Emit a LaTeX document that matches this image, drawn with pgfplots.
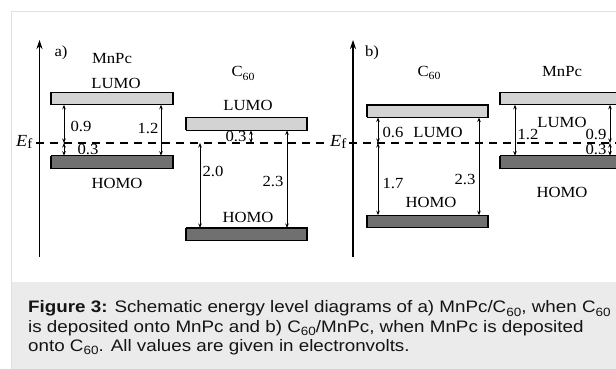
\documentclass[border=0pt]{standalone}
\usepackage{fontspec}
\setmainfont{Liberation Serif}[FakeStretch=1.08]
\newfontfamily\capfont{Liberation Sans}[FakeStretch=1.13]
\usepackage{pgfplots}
\pgfplotsset{compat=1.18}
\usetikzlibrary{arrows.meta}
\definecolor{lumo}{RGB}{211,211,211}
\definecolor{homo}{RGB}{112,112,112}
\definecolor{capbg}{RGB}{235,235,235}
\definecolor{framec}{RGB}{224,224,224}
\definecolor{captxt}{RGB}{20,20,20}
\newcommand{\sub}[1]{\raisebox{-0.22em}{\fontsize{11}{12}\selectfont #1}}
\newcommand{\csub}[1]{\raisebox{-0.2em}{\fontsize{12}{12}\selectfont #1}}
\newcommand{\Ef}{\textit{E}\raisebox{-0.12em}{\fontsize{14}{14}\selectfont f}}
\tikzset{
  lbl/.style={font=\fontsize{15.5}{18}\selectfont, inner sep=0pt, anchor=base},
  lvl/.style={draw=black, line width=1.4bp},
  gap/.style={<->, >={Stealth[length=4.5bp,width=3.5bp]}, line width=0.8bp},
  capl/.style={font=\capfont\fontsize{16.7}{19}\selectfont, text=captxt, inner sep=0pt, anchor=base west}
}
\begin{document}
\begin{tikzpicture}
\path[use as bounding box] (0,0) rectangle (616bp,369bp);
\fill[white] (0,0) rectangle (616bp,369bp);
\fill[capbg] (12bp,0) rectangle (616bp,87bp);
\draw[framec, line width=1bp] (11.5bp,0) -- (11.5bp,357.5bp) -- (616bp,357.5bp);
\node[capl] at (28bp,56bp) {\textbf{Figure 3:} Schematic energy level diagrams of a) MnPc/C\csub{60}, when C\csub{60}};
\node[capl] at (28bp,37bp) {is deposited onto MnPc and b) C\csub{60}/MnPc, when MnPc is deposited};
\node[capl] at (28bp,18bp) {onto C\csub{60}. All values are given in electronvolts.};
\begin{axis}[at={(0,0)}, anchor=south west, width=616bp, height=369bp, scale only axis,
  xmin=0, xmax=616, ymin=-5.3176, ymax=3.3647, hide axis, clip=true]
% energy axes
\addplot[-{Stealth[length=9bp,width=6bp]}, line width=1.2bp] coordinates {(39.5,-2.68) (39.5,2.424)};
\addplot[-{Stealth[length=9bp,width=6bp]}, line width=1.2bp] coordinates {(353,-2.68) (353,2.424)};
% Fermi level
\addplot[dash pattern=on 8bp off 6bp, line width=1.5bp] coordinates {(36,0) (327,0)};
\addplot[dash pattern=on 8bp off 6bp, line width=1.5bp] coordinates {(349,0) (616,0)};
% panel a: MnPc levels (LUMO 0.9, HOMO -0.3)
\addplot[lvl, fill=lumo] coordinates {(51,0.9) (173,0.9) (173,1.194) (51,1.194) (51,0.9)};
\addplot[lvl, fill=homo] coordinates {(51,-0.3) (173,-0.3) (173,-0.594) (51,-0.594) (51,-0.3)};
% panel a: C60 levels (LUMO 0.3, HOMO -2.0)
\addplot[lvl, fill=lumo] coordinates {(186,0.3) (307,0.3) (307,0.594) (186,0.594) (186,0.3)};
\addplot[lvl, fill=homo] coordinates {(186,-2.0) (307,-2.0) (307,-2.294) (186,-2.294) (186,-2.0)};
% panel b: C60 levels (LUMO 0.6, HOMO -1.7)
\addplot[lvl, fill=lumo] coordinates {(367,0.6) (488,0.6) (488,0.894) (367,0.894) (367,0.6)};
\addplot[lvl, fill=homo] coordinates {(367,-1.7) (488,-1.7) (488,-1.994) (367,-1.994) (367,-1.7)};
% panel b: MnPc levels (LUMO 0.9, HOMO -0.3)
\addplot[lvl, fill=lumo] coordinates {(500,0.9) (640,0.9) (640,1.194) (500,1.194) (500,0.9)};
\addplot[lvl, fill=homo] coordinates {(500,-0.3) (640,-0.3) (640,-0.594) (500,-0.594) (500,-0.3)};
% gaps panel a
\addplot[gap] coordinates {(64,0.9) (64,0)};
\addplot[gap] coordinates {(64,0) (64,-0.3)};
\addplot[gap] coordinates {(161,0.9) (161,-0.3)};
\addplot[gap] coordinates {(251,0.3) (251,0)};
\addplot[gap] coordinates {(200,0) (200,-2.0)};
\addplot[gap] coordinates {(287,0.3) (287,-2.0)};
% gaps panel b
\addplot[gap] coordinates {(378,0.6) (378,0)};
\addplot[gap] coordinates {(378,0) (378,-1.7)};
\addplot[gap] coordinates {(479,0.6) (479,-1.7)};
\addplot[gap] coordinates {(515,0.9) (515,-0.3)};
\addplot[gap] coordinates {(610,0.9) (610,0)};
\addplot[gap] coordinates {(610,0) (610,-0.3)};
% labels panel a
\node[lbl, anchor=base west] at (axis cs:16,-0.071) {\fontsize{17}{18}\selectfont\Ef};
\node[lbl] at (axis cs:61,2.024) {a)};
\node[lbl] at (axis cs:112,1.882) {MnPc};
\node[lbl] at (axis cs:116,1.271) {LUMO};
\node[lbl] at (axis cs:81,0.282) {0.9};
\node[lbl] at (axis cs:148,0.235) {1.2};
\node[lbl] at (axis cs:88,-0.259) {0.3};
\node[lbl] at (axis cs:117,-1.059) {HOMO};
\node[lbl] at (axis cs:243,1.553) {C\sub{60}};
\node[lbl] at (axis cs:248,0.753) {LUMO};
\node[lbl] at (axis cs:236,0.047) {0.3};
\node[lbl] at (axis cs:213,-0.8) {2.0};
\node[lbl] at (axis cs:273,-1.035) {2.3};
\node[lbl] at (axis cs:248,-1.859) {HOMO};
% labels panel b
\node[lbl, anchor=base west] at (axis cs:330,-0.071) {\fontsize{17}{18}\selectfont\Ef};
\node[lbl] at (axis cs:372,2.024) {b)};
\node[lbl] at (axis cs:429,1.576) {C\sub{60}};
\node[lbl] at (axis cs:562,1.576) {MnPc};
\node[lbl] at (axis cs:393,0.118) {0.6};
\node[lbl] at (axis cs:438,0.118) {LUMO};
\node[lbl] at (axis cs:393,-1.059) {1.7};
\node[lbl] at (axis cs:465,-0.988) {2.3};
\node[lbl] at (axis cs:431,-1.529) {HOMO};
\node[lbl] at (axis cs:562,0.376) {LUMO};
\node[lbl] at (axis cs:528,0.094) {1.2};
\node[lbl] at (axis cs:596,0.071) {0.9};
\node[lbl] at (axis cs:596,-0.282) {0.3};
\node[lbl] at (axis cs:562,-1.271) {HOMO};
\end{axis}
\end{tikzpicture}
\end{document}
